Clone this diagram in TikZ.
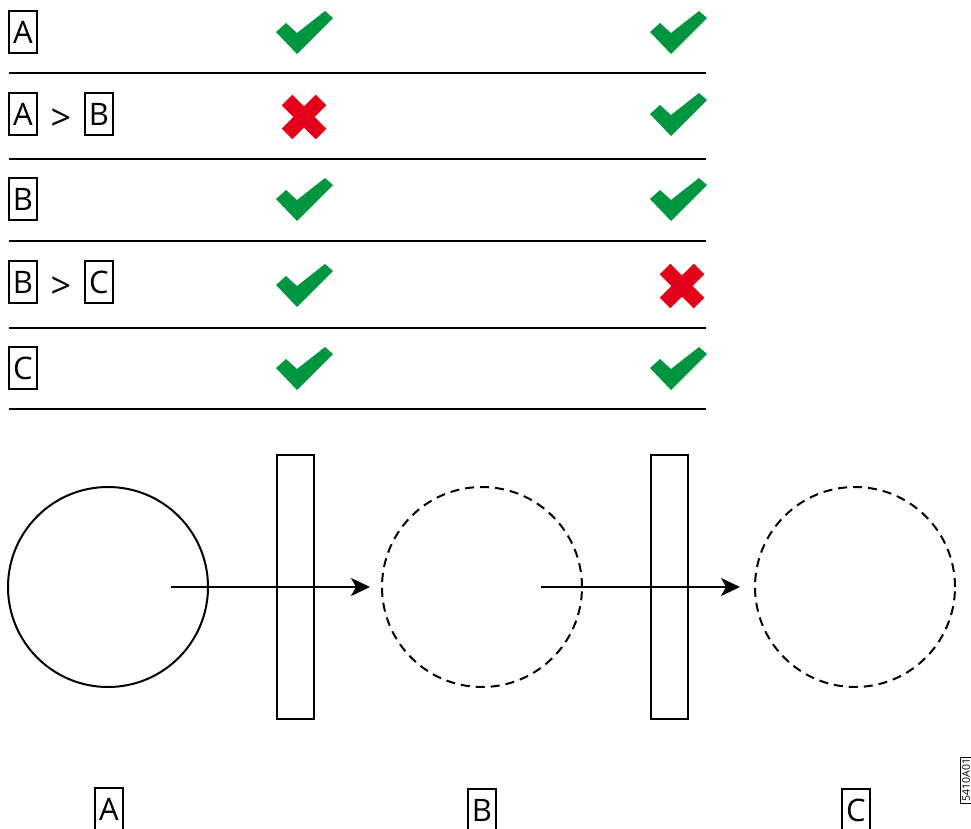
\documentclass[tikz,border=0pt]{standalone}
\usepackage{fontspec}
\setmainfont{Open Sans}
\usetikzlibrary{arrows.meta}
\definecolor{okgreen}{RGB}{0,150,64}
\definecolor{nored}{RGB}{226,0,26}
\tikzset{
  letter/.style={draw, line width=2.5pt, minimum width=28pt, minimum height=42pt, inner sep=0pt, font=\fontsize{31}{36}\selectfont},
  rel/.style={font=\fontsize{36}{40}\selectfont, inner sep=0pt},
  gate/.style={draw, line width=2pt, minimum width=37pt, minimum height=264pt},
  ball/.style={draw, circle, line width=2pt, minimum size=200pt, inner sep=0pt},
  ghost/.style={ball, dash pattern=on 9pt off 6pt},
}
% green tick and red cross, centred at (#1,#2)
\newcommand{\tick}[2]{\fill[okgreen] (#1,#2) ++(-28,0) -- ++(10,-9) -- ++(11,10) -- ++(28,-22) -- ++(8,7) -- ++(-36,36) -- cycle;}
\newcommand{\cross}[2]{\draw[nored, line width=15pt] (#1-17,#2-17) -- (#1+17,#2+17) (#1-17,#2+17) -- (#1+17,#2-17);}
\begin{document}
\begin{tikzpicture}[x=1pt, y=-1pt, >={Stealth[length=19pt,width=18pt,inset=5pt]}]
    \useasboundingbox (0,0) rectangle (971,829);
    % table
    \foreach \y in {73,159,241,328,409}
        \draw[line width=2pt] (9,\y)--(706,\y);
    \node[letter] (r1a) at (23,32) {A};
    \node[letter] (r2a) at (23,114) {A};
    \node[rel] (r2gt) at (61,120) {>};
    \node[letter] (r2b) at (99,114) {B};
    \node[letter] (r3b) at (23,199) {B};
    \node[letter] (r4b) at (23,282) {B};
    \node[rel] (r4gt) at (61,288) {>};
    \node[letter] (r4c) at (99,282) {C};
    \node[letter] (r5c) at (23,368) {C};
    \tick{304}{32}  \tick{678}{32}
    \cross{304}{117} \tick{678}{114}
    \tick{304}{199} \tick{678}{199}
    \tick{304}{285} \cross{682}{286}
    \tick{304}{368} \tick{678}{368}
    % circles and gates
    \node[ball] (ca) at (108,587) {};
    \node[gate] (g1) at (295.5,587) {};
    \node[ghost] (cb) at (482,587) {};
    \node[gate] (g2) at (669.5,587) {};
    \node[ghost] (cc) at (855,587) {};
    \draw[->, line width=2pt] ([xshift=63pt]ca.center) -- ([xshift=-11pt]cb.west);
    \draw[->, line width=2pt] ([xshift=59pt]cb.center) -- ([xshift=-14pt]cc.west);
    \node[letter] (la) at (109,809) {A};
    \node[letter] (lb) at (482,810) {B};
    \node[letter] (lc) at (856,810) {C};
    \node[draw, line width=0.8pt, rotate=90, anchor=east, inner sep=1.5pt, font=\fontsize{10.5}{12}\selectfont] (tag) at (966,757) {5410A01};
\end{tikzpicture}
\end{document}
